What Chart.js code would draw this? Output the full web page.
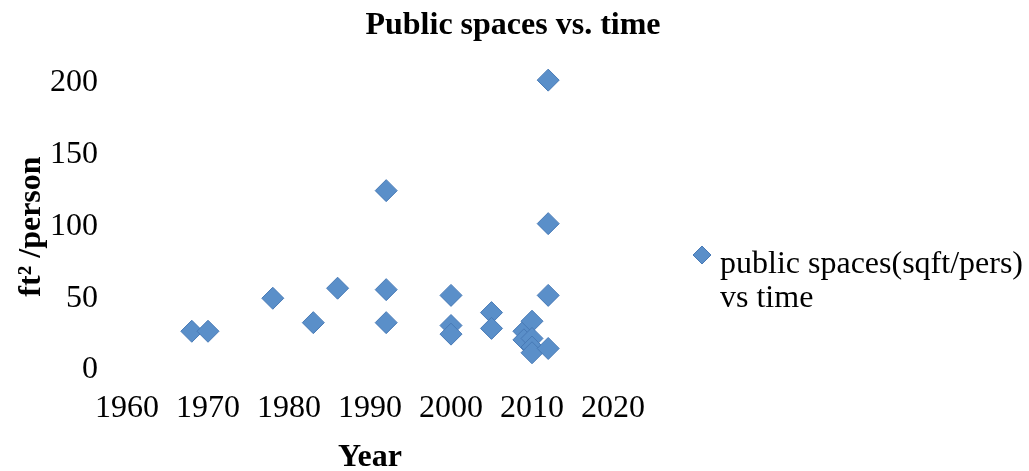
<!DOCTYPE html>
<html>
<head>
<meta charset="utf-8">
<script src="https://cdn.jsdelivr.net/npm/chart.js@4"></script>
<style>
  body { margin: 0; background: #fff; }
  canvas { display: block; }
</style>
</head>
<body>
<canvas id="chart" width="1029" height="471"></canvas>
<script>
/* ---------------- DATA ---------------- */
const years = [1968, 1970, 1978, 1983, 1986, 1992, 1992, 1992, 2000, 2000, 2000, 2005, 2005,
  2009, 2009, 2010, 2010, 2010, 2010, 2012, 2012, 2012, 2012];
const spaces = [27, 27, 50, 33, 57, 125, 56, 33, 52, 31, 25, 40, 29,
  27, 21, 34, 22, 16, 12, 202, 102, 52, 15];
const xTicks = [1960, 1970, 1980, 1990, 2000, 2010, 2020];
const yTicks = [0, 50, 100, 150, 200];

const chartTitle = "Public spaces vs. time";
const seriesName = ["public spaces(sqft/pers)", "vs time"];

const FONT = "'Liberation Serif', 'Times New Roman', serif";
const BLUE = "rgb(90,143,201)";
const BLUE_EDGE = "rgb(72,122,182)";

/* ---------------- TITLE + LEGEND ---------------- */
const extras = {
  id: "extras",
  afterDraw(chart) {
    const ctx = chart.ctx;
    ctx.save();
    ctx.fillStyle = "#000";
    ctx.font = `bold 32px ${FONT}`;
    ctx.textAlign = "center";
    ctx.textBaseline = "middle";
    ctx.fillText(chartTitle, 513, 26);

    // legend marker
    ctx.fillStyle = BLUE;
    ctx.strokeStyle = BLUE_EDGE;
    ctx.beginPath();
    ctx.moveTo(702, 246);
    ctx.lineTo(711, 255);
    ctx.lineTo(702, 264);
    ctx.lineTo(693, 255);
    ctx.closePath();
    ctx.fill();
    ctx.stroke();

    ctx.fillStyle = "#000";
    ctx.font = `32px ${FONT}`;
    ctx.textAlign = "left";
    ctx.textBaseline = "alphabetic";
    seriesName.forEach((line, i) => ctx.fillText(line, 720, 273 + i * 34));
    ctx.restore();
  }
};

/* ---------------- CHART ---------------- */
new Chart(document.getElementById("chart"), {
  type: "scatter",
  data: {
    datasets: [{
      label: seriesName.join(" "),
      data: years.map((y, i) => ({ x: y, y: spaces[i] })),
      pointStyle: "rectRot",
      pointRadius: 11,
      pointHoverRadius: 11,
      backgroundColor: BLUE,
      borderColor: BLUE_EDGE,
      borderWidth: 1,
      clip: false
    }]
  },
  options: {
    responsive: false,
    animation: false,
    layout: { padding: { top: 83, right: 416, left: 0, bottom: 0 } },
    plugins: {
      legend: { display: false },
      title: { display: false },
      tooltip: { enabled: false }
    },
    scales: {
      x: {
        type: "linear",
        min: 1960,
        max: 2020,
        afterBuildTicks: s => { s.ticks = xTicks.map(v => ({ value: v })); },
        afterFit: s => { s.height = 101; },
        grid: { display: false, drawTicks: false },
        border: { display: false },
        ticks: {
          padding: 19,
          color: "#000",
          font: { family: FONT, size: 32 },
          callback: v => String(v)
        },
        title: {
          display: true,
          text: "Year",
          color: "#000",
          font: { family: FONT, size: 32, weight: "bold" },
          padding: { top: 0, bottom: -6 }
        }
      },
      y: {
        min: 0,
        max: 200,
        afterBuildTicks: s => { s.ticks = yTicks.map(v => ({ value: v })); },
        afterFit: s => { s.width = 127; },
        grid: { display: false, drawTicks: false },
        border: { display: false },
        ticks: {
          padding: 29,
          color: "#000",
          font: { family: FONT, size: 32 }
        },
        title: {
          display: true,
          text: "ft² /person",
          color: "#000",
          font: { family: FONT, size: 32, weight: "bold" },
          padding: { top: 13, bottom: 0 }
        }
      }
    }
  },
  plugins: [extras]
});
</script>
</body>
</html>
